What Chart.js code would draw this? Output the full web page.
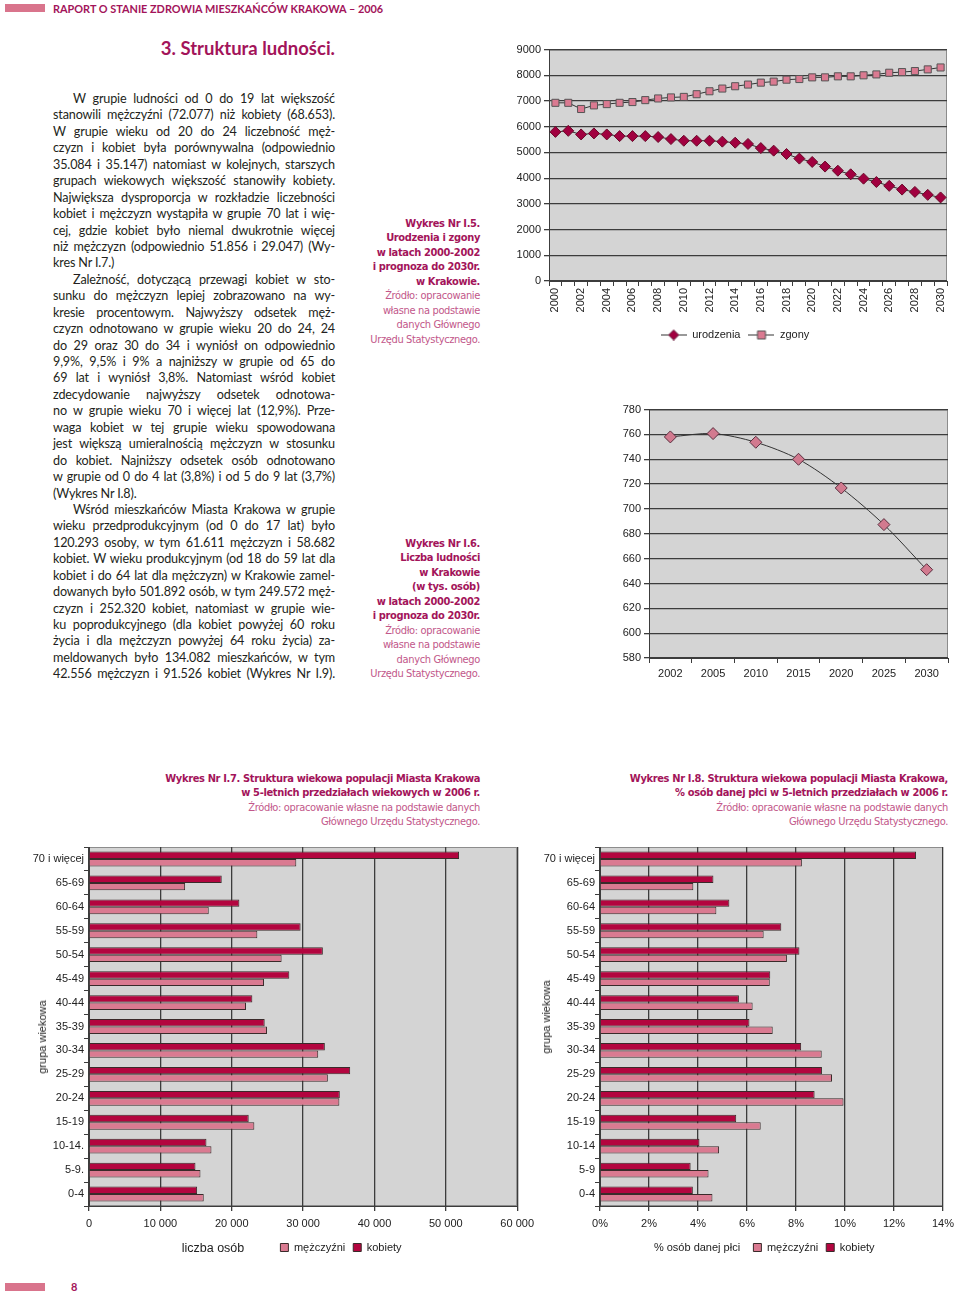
<!DOCTYPE html>
<html lang="pl">
<head>
<meta charset="utf-8">
<title>Struktura ludności</title>
<script src="https://cdn.jsdelivr.net/npm/chart.js@4/dist/chart.umd.min.js"></script>
<style>
  body { margin: 0; width: 960px; height: 1298px; position: relative; background: #fff; overflow: hidden;
         font-family: Lato, 'Open Sans', sans-serif; }
  .abs { position: absolute; }
  .pinkbar { position: absolute; left: 5px; width: 40px; height: 8px; background: #d9748c; }
  .head { left: 53px; top: 2px; font-size: 10.9px; font-weight: bold; color: #a3145a; white-space: nowrap; }
  .title { right: 625px; top: 37px; font-size: 18.5px; font-weight: bold; color: #a3145a; white-space: nowrap; }
  .txt { left: 53px; top: 91px; width: 282px; font-size: 12.6px; line-height: 16.43px; color: #231f20;
         letter-spacing: -0.15px; }
  .txt div { text-align: justify; text-align-last: justify; white-space: nowrap; }
  .txt .ind { text-indent: 20px; }
  .txt .last { text-align-last: left; }
  .cap { text-align: right; font-family: 'DejaVu Sans Condensed', 'Liberation Sans Narrow', sans-serif;
         font-size: 11px; letter-spacing: -0.35px; line-height: 14.45px; white-space: nowrap; }
  .cap b { color: #a3145a; }
  .cap .src { color: #c2578a; }
  .box { position: absolute; }
  .axt { position: absolute; font-family: 'Liberation Sans', Arial, sans-serif; color: #222; white-space: nowrap; }
  .rot { transform: translate(-50%, -50%) rotate(-90deg); }
  .ctr { transform: translate(-50%, -50%); }
</style>
</head>
<body>
<div class="pinkbar" style="top:4px"></div>
<div class="abs head">RAPORT O STANIE ZDROWIA MIESZKAŃCÓW KRAKOWA – 2006</div>
<div class="abs title">3. Struktura ludności.</div>

<div class="abs txt">
  <div class="ind">W grupie ludności od 0 do 19 lat większość</div>
  <div>stanowili mężczyźni (72.077) niż kobiety (68.653).</div>
  <div>W grupie wieku od 20 do 24 liczebność męż-</div>
  <div>czyzn i kobiet była porównywalna (odpowiednio</div>
  <div>35.084 i 35.147) natomiast w kolejnych, starszych</div>
  <div>grupach wiekowych większość stanowiły kobiety.</div>
  <div>Największa dysproporcja w rozkładzie liczebności</div>
  <div>kobiet i mężczyzn wystąpiła w grupie 70 lat i wię-</div>
  <div>cej, gdzie kobiet było niemal dwukrotnie więcej</div>
  <div>niż mężczyzn (odpowiednio 51.856 i 29.047) (Wy-</div>
  <div class="last">kres Nr I.7.)</div>
  <div class="ind">Zależność, dotyczącą przewagi kobiet w sto-</div>
  <div>sunku do mężczyzn lepiej zobrazowano na wy-</div>
  <div>kresie procentowym. Najwyższy odsetek męż-</div>
  <div>czyzn odnotowano w grupie wieku 20 do 24, 24</div>
  <div>do 29 oraz 30 do 34 i wyniósł on odpowiednio</div>
  <div>9,9%, 9,5% i 9% a najniższy w grupie od 65 do</div>
  <div>69 lat i wyniósł 3,8%. Natomiast wśród kobiet</div>
  <div>zdecydowanie najwyższy odsetek odnotowa-</div>
  <div>no w grupie wieku 70 i więcej lat (12,9%). Prze-</div>
  <div>waga kobiet w tej grupie wieku spowodowana</div>
  <div>jest większą umieralnością mężczyzn w stosunku</div>
  <div>do kobiet. Najniższy odsetek osób odnotowano</div>
  <div>w grupie od 0 do 4 lat (3,8%) i od 5 do 9 lat (3,7%)</div>
  <div class="last">(Wykres Nr I.8).</div>
  <div class="ind">Wśród mieszkańców Miasta Krakowa w grupie</div>
  <div>wieku przedprodukcyjnym (od 0 do 17 lat) było</div>
  <div>120.293 osoby, w tym 61.611 mężczyzn i 58.682</div>
  <div>kobiet. W wieku produkcyjnym (od 18 do 59 lat dla</div>
  <div>kobiet i do 64 lat dla mężczyzn) w Krakowie zamel-</div>
  <div>dowanych było 501.892 osób, w tym 249.572 męż-</div>
  <div>czyzn i 252.320 kobiet, natomiast w grupie wie-</div>
  <div>ku poprodukcyjnego (dla kobiet powyżej 60 roku</div>
  <div>życia i dla mężczyzn powyżej 64 roku życia) za-</div>
  <div>meldowanych było 134.082 mieszkańców, w tym</div>
  <div>42.556 mężczyzn i 91.526 kobiet (Wykres Nr I.9).</div>
</div>

<div class="abs cap" style="top:217px; left:340px; width:140px">
  <b>Wykres Nr I.5.<br>Urodzenia i zgony<br>w latach 2000-2002<br>i prognoza do 2030r.<br>w Krakowie.</b><br>
  <span class="src">Źródło: opracowanie<br>własne na podstawie<br>danych Głównego<br>Urzędu Statystycznego.</span>
</div>
<div class="abs cap" style="top:537px; left:340px; width:140px">
  <b>Wykres Nr I.6.<br>Liczba ludności<br>w Krakowie<br>(w tys. osób)<br>w latach 2000-2002<br>i prognoza do 2030r.</b><br>
  <span class="src">Źródło: opracowanie<br>własne na podstawie<br>danych Głównego<br>Urzędu Statystycznego.</span>
</div>
<div class="abs cap" style="top:772px; left:100px; width:380px">
  <b>Wykres Nr I.7. Struktura wiekowa populacji Miasta Krakowa<br>w 5-letnich przedziałach wiekowych w 2006 r.</b><br>
  <span class="src">Źródło: opracowanie własne na podstawie danych<br>Głównego Urzędu Statystycznego.</span>
</div>
<div class="abs cap" style="top:772px; left:548px; width:400px">
  <b>Wykres Nr I.8. Struktura wiekowa populacji Miasta Krakowa,<br>% osób danej płci w 5-letnich przedziałach w 2006 r.</b><br>
  <span class="src">Źródło: opracowanie własne na podstawie danych<br>Głównego Urzędu Statystycznego.</span>
</div>

<div class="box" style="left:505px; top:40px; width:455px; height:310px"><canvas id="vitalChart"></canvas></div>
<div class="box" style="left:600px; top:400px; width:360px; height:290px"><canvas id="popChart"></canvas></div>
<div class="box" style="left:0px; top:840px; width:540px; height:423px"><canvas id="ageChart"></canvas></div>
<div class="box" style="left:530px; top:840px; width:430px; height:423px"><canvas id="pctChart"></canvas></div>

<div class="axt rot" style="left:42px; top:1037px; font-size:11px">grupa wiekowa</div>
<div class="axt ctr" style="left:213px; top:1248px; font-size:12.5px">liczba osób</div>
<div class="axt rot" style="left:546px; top:1017px; font-size:11px">grupa wiekowa</div>
<div class="axt ctr" style="left:697px; top:1247px; font-size:11px">% osób danej płci</div>

<div class="pinkbar" style="top:1283px"></div>
<div class="abs head" style="left:71px; top:1280px; font-size:11px">8</div>

<script>
// BIRTHS AND DEATHS 2000-2030
const years = ['2000', '2001', '2002', '2003', '2004', '2005', '2006', '2007', '2008', '2009', '2010',
  '2011', '2012', '2013', '2014', '2015', '2016', '2017', '2018', '2019', '2020',
  '2021', '2022', '2023', '2024', '2025', '2026', '2027', '2028', '2029', '2030'];
const births = [5800, 5840, 5700, 5740, 5700, 5635, 5635, 5635, 5600, 5520, 5455,
  5455, 5455, 5420, 5380, 5330, 5170, 5070, 4940, 4760, 4630,
  4450, 4290, 4150, 3980, 3850, 3700, 3555, 3465, 3350, 3250];
const deaths = [6930, 6930, 6690, 6830, 6880, 6930, 6960, 7035, 7100, 7140, 7160,
  7265, 7380, 7485, 7575, 7640, 7715, 7755, 7830, 7855, 7920,
  7920, 7960, 7960, 8000, 8035, 8100, 8125, 8165, 8230, 8305];

// POPULATION (thousands)
const popYears = ['2002', '2005', '2010', '2015', '2020', '2025', '2030'];
const population = [758, 760.7, 753.7, 740, 716.9, 687.4, 651.1];

// AGE STRUCTURE 2006
const ageGroups = ['70 i więcej', '65-69', '60-64', '55-59', '50-54', '45-49', '40-44', '35-39',
  '30-34', '25-29', '20-24', '15-19', '10-14.', '5-9.', '0-4'];
const ageGroupsPct = ['70 i więcej', '65-69', '60-64', '55-59', '50-54', '45-49', '40-44', '35-39',
  '30-34', '25-29', '20-24', '15-19', '10-14', '5-9', '0-4'];
const women = [51856, 18600, 21070, 29650, 32770, 28070, 22890, 24620, 33050, 36600, 35147, 22380, 16460, 14920, 15150];
const men = [29047, 13470, 16780, 23590, 26990, 24520, 22000, 24940, 32120, 33470, 35084, 23170, 17160, 15620, 16080];
const womenPct = [12.9, 4.63, 5.28, 7.4, 8.14, 6.95, 5.67, 6.1, 8.21, 9.06, 8.76, 5.56, 4.06, 3.7, 3.79];
const menPct = [8.24, 3.81, 4.75, 6.68, 7.63, 6.93, 6.23, 7.05, 9.05, 9.47, 9.94, 6.56, 4.86, 4.43, 4.59];

const CRIMSON = '#b3053f';
const PINK = '#da7a91';
const GRID = '#3c3c3c';

Chart.defaults.font.family = "'Liberation Sans', Arial, sans-serif";
Chart.defaults.font.size = 11;
Chart.defaults.color = '#222';
Chart.defaults.animation = false;
Chart.defaults.maintainAspectRatio = false;

// grey plot area like the Excel original
const plotBg = {
  id: 'plotBg',
  beforeDraw(chart) {
    const { ctx, chartArea: a } = chart;
    ctx.save();
    ctx.fillStyle = '#d4d4d4';
    ctx.fillRect(a.left, a.top, a.width, a.height);
    ctx.strokeStyle = '#8c8c8c';
    ctx.lineWidth = 1;
    ctx.strokeRect(a.left + 0.5, a.top + 0.5, a.width - 1, a.height - 1);
    ctx.restore();
  }
};

// move the legend sideways
const legendShift = {
  id: 'legendShift',
  afterLayout(chart, args, opts) {
    if (chart.legend && opts.dx) {
      chart.legend.left += opts.dx;
      chart.legend.right += opts.dx;
    }
  }
};

function legendIcon(style, fill) {
  const c = document.createElement('canvas');
  c.width = 26; c.height = 12;
  const g = c.getContext('2d');
  g.strokeStyle = '#333';
  g.lineWidth = 1;
  g.beginPath(); g.moveTo(0, 6.5); g.lineTo(26, 6.5); g.stroke();
  g.fillStyle = fill;
  g.beginPath();
  if (style === 'diamond') {
    g.moveTo(13, 1.5); g.lineTo(18, 6.5); g.lineTo(13, 11.5); g.lineTo(8, 6.5); g.closePath();
    g.fill(); g.strokeStyle = '#5a1030'; g.stroke();
  } else {
    g.rect(9, 2.5, 8, 8);
    g.fill(); g.strokeStyle = '#555'; g.stroke();
  }
  return c;
}
const icons = [legendIcon('diamond', '#a1003f'), legendIcon('square', PINK)];

const fmtThousands = v => String(v).replace(/\B(?=(\d{3})+(?!\d))/g, ' ');

new Chart(document.getElementById('vitalChart'), {
  type: 'line',
  data: {
    labels: years,
    datasets: [{
      label: 'urodzenia',
      data: births,
      borderColor: '#333',
      borderWidth: 1,
      pointStyle: 'rectRot',
      pointRadius: 5.5,
      pointBackgroundColor: '#a1003f',
      pointBorderColor: '#6a0a2a',
      pointBorderWidth: 1
    }, {
      label: 'zgony',
      data: deaths,
      borderColor: '#333',
      borderWidth: 1,
      pointStyle: 'rect',
      pointRadius: 5,
      pointBackgroundColor: PINK,
      pointBorderColor: '#555',
      pointBorderWidth: 1
    }]
  },
  plugins: [plotBg, legendShift],
  options: {
    layout: { padding: { top: 7, right: 13 } },
    plugins: {
      legendShift: { dx: 9 },
      tooltip: { enabled: false },
      legend: {
        position: 'bottom',
        labels: {
          usePointStyle: true,
          pointStyleWidth: 26,
          padding: 8,
          font: { size: 11 },
          generateLabels: chart => Chart.defaults.plugins.legend.labels.generateLabels(chart)
            .map((item, i) => Object.assign(item, { pointStyle: icons[i] }))
        }
      }
    },
    scales: {
      x: {
        offset: true,
        grid: { offset: true, drawOnChartArea: false, tickLength: 5, color: GRID },
        border: { color: GRID },
        ticks: {
          autoSkip: false, minRotation: 90, maxRotation: 90, padding: 2,
          callback: (v, i) => (i % 2 === 0 ? years[i] : '')
        },
        afterFit: s => { s.height = 40; }
      },
      y: {
        min: 0, max: 9000,
        ticks: { stepSize: 1000, padding: 3, callback: v => String(v) },
        grid: { color: GRID, tickLength: 5, lineWidth: 1.3 },
        border: { color: GRID },
        afterFit: s => { s.width = 44; }
      }
    }
  }
});

new Chart(document.getElementById('popChart'), {
  type: 'line',
  data: {
    labels: popYears,
    datasets: [{
      label: 'Liczba ludności',
      data: population,
      borderColor: '#333',
      borderWidth: 1,
      tension: 0.3,
      pointStyle: 'rectRot',
      pointRadius: 6,
      pointBackgroundColor: '#d27a8f',
      pointBorderColor: '#5a3040',
      pointBorderWidth: 1
    }]
  },
  plugins: [plotBg],
  options: {
    layout: { padding: { top: 9, right: 12 } },
    plugins: { legend: { display: false }, tooltip: { enabled: false } },
    scales: {
      x: {
        offset: true,
        grid: { offset: true, drawOnChartArea: false, tickLength: 5, color: GRID },
        border: { color: GRID },
        ticks: { padding: 4 },
        afterFit: s => { s.height = 32; }
      },
      y: {
        min: 580, max: 780,
        ticks: { stepSize: 20, padding: 3, callback: v => String(v) },
        grid: { color: GRID, tickLength: 5, lineWidth: 1.3 },
        border: { color: GRID },
        afterFit: s => { s.width = 49; }
      }
    }
  }
});

function barOptions(xMax, xStep, xFmt, yWidth, padRight, dx) {
  return {
    indexAxis: 'y',
    layout: { padding: { top: 7, right: padRight } },
    datasets: { bar: { categoryPercentage: 0.62, barPercentage: 1 } },
    plugins: {
      legendShift: { dx: dx },
      tooltip: { enabled: false },
      legend: {
        position: 'bottom',
        reverse: true,
        labels: { boxWidth: 8, boxHeight: 8, padding: 8, font: { size: 11 } }
      }
    },
    scales: {
      x: {
        min: 0, max: xMax,
        ticks: { stepSize: xStep, callback: xFmt, padding: 6 },
        grid: { color: GRID, tickLength: 5, lineWidth: 1.3 },
        border: { color: GRID },
        afterFit: s => { s.height = 28; }
      },
      y: {
        grid: { offset: true, drawOnChartArea: false, tickLength: 5, color: GRID },
        border: { color: GRID },
        ticks: { padding: 0, autoSkip: false },
        afterFit: s => { s.width = yWidth; }
      }
    }
  };
}

new Chart(document.getElementById('ageChart'), {
  type: 'bar',
  data: {
    labels: ageGroups,
    datasets: [
      { label: 'kobiety', data: women, backgroundColor: CRIMSON, borderColor: '#3a2a2a', borderWidth: 1 },
      { label: 'mężczyźni', data: men, backgroundColor: PINK, borderColor: '#3a2a2a', borderWidth: 1 }
    ]
  },
  plugins: [plotBg, legendShift],
  options: barOptions(60000, 10000, v => fmtThousands(v), 89, 22, 82)
});

new Chart(document.getElementById('pctChart'), {
  type: 'bar',
  data: {
    labels: ageGroupsPct,
    datasets: [
      { label: 'kobiety', data: womenPct, backgroundColor: CRIMSON, borderColor: '#3a2a2a', borderWidth: 1 },
      { label: 'mężczyźni', data: menPct, backgroundColor: PINK, borderColor: '#3a2a2a', borderWidth: 1 }
    ]
  },
  plugins: [plotBg, legendShift],
  options: barOptions(14, 2, v => v + '%', 70, 14, 76)
});
</script>
</body>
</html>
